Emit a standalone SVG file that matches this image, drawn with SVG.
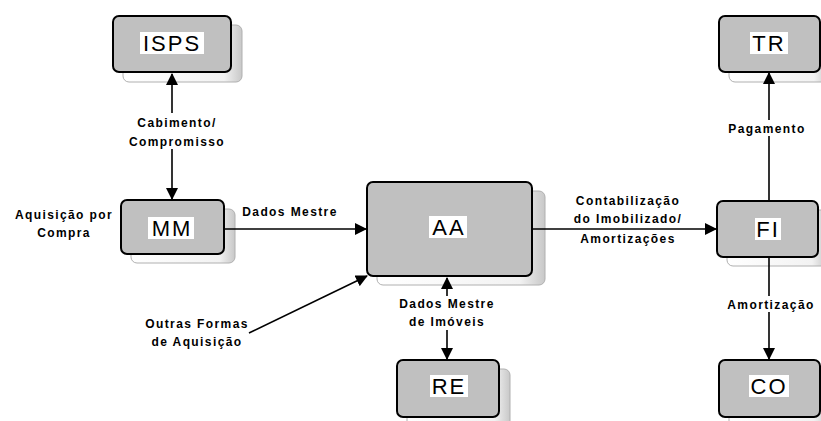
<svg xmlns="http://www.w3.org/2000/svg" width="821" height="421" viewBox="0 0 821 421">
<defs>
<linearGradient id="sh" x1="0" y1="0" x2="1" y2="0">
<stop offset="0" stop-color="#ffffff"/>
<stop offset="0.85" stop-color="#f2f2f2"/>
<stop offset="1" stop-color="#c8c8c8"/>
</linearGradient>
<marker id="arr" markerWidth="12" markerHeight="12" refX="11" refY="6" orient="auto-start-reverse" markerUnits="userSpaceOnUse">
<path d="M0,0 L12,6 L0,12 Z" fill="#000"/>
</marker>
</defs>
<style>
.shadow{fill:url(#sh);stroke:#b0b0b0;stroke-width:1}
.box{fill:#c0c0c0;stroke:#000;stroke-width:2}
.nl{font-family:"Liberation Sans",Arial,sans-serif;font-size:22px;letter-spacing:2px;fill:#000;text-anchor:middle}
.tb{fill:#fff}
.el{font-family:"Liberation Sans",Arial,sans-serif;font-size:12px;font-weight:bold;letter-spacing:1.4px;fill:#000;text-anchor:middle}
.ln{stroke:#000;stroke-width:1.6;fill:none}
</style>
<rect width="821" height="421" fill="#fff"/>
<g id="ISPS">
<rect class="shadow" x="123" y="25" width="119" height="57" rx="6"/>
<rect class="box" x="113" y="16" width="118" height="56" rx="6"/>
<rect class="tb" x="140" y="32" width="64" height="22"/>
<text class="nl" x="172" y="51">ISPS</text>
</g>
<g id="MM">
<rect class="shadow" x="131" y="209" width="104" height="54" rx="6"/>
<rect class="box" x="121" y="200" width="103" height="54" rx="6"/>
<rect class="tb" x="148" y="217" width="46" height="22"/>
<text class="nl" x="172" y="236">MM</text>
</g>
<g id="AA">
<rect class="shadow" x="377" y="191" width="168" height="94" rx="6"/>
<rect class="box" x="367" y="182" width="165" height="94" rx="6"/>
<rect class="tb" x="429" y="216" width="38" height="22"/>
<text class="nl" x="449" y="235">AA</text>
</g>
<g id="RE">
<rect class="shadow" x="407" y="369" width="103" height="60" rx="6"/>
<rect class="box" x="397" y="360" width="102" height="57" rx="6"/>
<rect class="tb" x="430" y="375" width="38" height="22"/>
<text class="nl" x="449" y="394">RE</text>
</g>
<g id="TR">
<rect class="shadow" x="729" y="25" width="100" height="57" rx="6"/>
<rect class="box" x="719" y="16" width="101" height="56" rx="6"/>
<rect class="tb" x="750" y="32" width="38" height="22"/>
<text class="nl" x="769" y="51">TR</text>
</g>
<g id="FI">
<rect class="shadow" x="727" y="210" width="100" height="56" rx="6"/>
<rect class="box" x="717" y="201" width="101" height="56" rx="6"/>
<rect class="tb" x="755" y="218" width="26" height="22"/>
<text class="nl" x="768" y="237">FI</text>
</g>
<g id="CO">
<rect class="shadow" x="729" y="369" width="100" height="60" rx="6"/>
<rect class="box" x="719" y="360" width="101" height="57" rx="6"/>
<rect class="tb" x="749" y="375" width="40" height="22"/>
<text class="nl" x="769" y="394">CO</text>
</g>
<g id="connectors">
<line class="ln" x1="172" y1="74" x2="172" y2="199" marker-start="url(#arr)" marker-end="url(#arr)"/>
<line class="ln" x1="225" y1="229" x2="366" y2="229" marker-end="url(#arr)"/>
<line class="ln" x1="249" y1="333" x2="367" y2="276" marker-end="url(#arr)"/>
<line class="ln" x1="447" y1="278" x2="447" y2="359" marker-start="url(#arr)" marker-end="url(#arr)"/>
<line class="ln" x1="533" y1="229" x2="716" y2="229" marker-end="url(#arr)"/>
<line class="ln" x1="769" y1="200" x2="769" y2="73" marker-end="url(#arr)"/>
<line class="ln" x1="769" y1="258" x2="769" y2="359" marker-end="url(#arr)"/>
<rect class="tb" x="124" y="113" width="106" height="36"/>
<text class="el" x="177" y="127">Cabimento/</text>
<text class="el" x="177" y="146">Compromisso</text>
<text class="el" x="290" y="216">Dados Mestre</text>
<text class="el" x="64" y="219">Aquisição por</text>
<text class="el" x="64" y="237">Compra</text>
<text class="el" x="197" y="328">Outras Formas</text>
<text class="el" x="197" y="346">de Aquisição</text>
<rect class="tb" x="392" y="296" width="112" height="34"/>
<text class="el" x="447" y="308">Dados Mestre</text>
<text class="el" x="447" y="326">de Imóveis</text>
<text class="el" x="628" y="205">Contabilização</text>
<text class="el" x="628" y="223">do Imobilizado/</text>
<text class="el" x="628" y="243">Amortizações</text>
<rect class="tb" x="723" y="120" width="90" height="16"/>
<text class="el" x="767" y="133">Pagamento</text>
<rect class="tb" x="721" y="296" width="100" height="16"/>
<text class="el" x="771" y="309">Amortização</text>
</g>
</svg>
